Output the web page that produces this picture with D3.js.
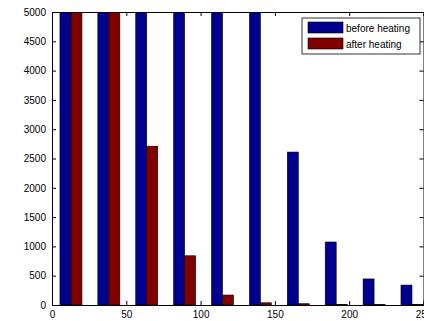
<!DOCTYPE html>
<html>
<head>
<meta charset="utf-8">
<script src="https://cdn.jsdelivr.net/npm/d3@7/dist/d3.min.js"></script>
<style>
  body { margin: 0; background: #fff; }
  svg text { font-family: "Liberation Sans", Arial, sans-serif; font-size: 10px; fill: #000; }
</style>
</head>
<body>
<div id="chart"></div>
<script>
// bin centres of the histogram (10 bins over 0..255)
const binCenters = [12.75, 38.25, 63.75, 89.25, 114.75, 140.25, 165.75, 191.25, 216.75, 242.25];
const beforeHeating = [5000, 5000, 5000, 5000, 5000, 5000, 2610, 1075, 445, 340];
const afterHeating = [5000, 5000, 2710, 840, 170, 38, 22, 10, 8, 6];
const xTicks = [0, 50, 100, 150, 200, 250];
const yTicks = [0, 500, 1000, 1500, 2000, 2500, 3000, 3500, 4000, 4500, 5000];
const seriesNames = ["before heating", "after heating"];
const colors = ["#00008f", "#800000"];

const W = 424, H = 321;
const plotLeft = 52, plotTop = 12, plotBottom = 305;

const svg = d3.select("#chart").append("svg")
    .attr("width", W)
    .attr("height", H);

const x = d3.scaleLinear().domain([0, 250]).range([plotLeft, plotLeft + 250 * 1.486]);
const y = d3.scaleLinear().domain([0, 5000]).range([plotBottom, plotTop]);

const barW = 11;

svg.append("defs").append("clipPath").attr("id", "plot")
    .append("rect")
    .attr("x", plotLeft).attr("y", plotTop)
    .attr("width", x(250) - plotLeft).attr("height", plotBottom - plotTop);

const bars = svg.append("g").attr("clip-path", "url(#plot)");

[beforeHeating, afterHeating].forEach(function(vals, s) {
    bars.selectAll(".bar" + s)
        .data(vals)
        .enter()
        .append("rect")
        .attr("x", function(d, i) { return x(binCenters[i]) - barW + s * barW; })
        .attr("y", function(d) { return y(d); })
        .attr("width", barW)
        .attr("height", function(d) { return y(0) - y(d); })
        .attr("fill", colors[s])
        .attr("stroke", "#000")
        .attr("stroke-width", 0.6);
});

// axes, MATLAB style: ticks point inward, box around
const xAxis = d3.axisBottom(x).tickValues(xTicks).tickSize(-4).tickPadding(6).tickFormat(d3.format("d"));
const yAxis = d3.axisLeft(y).tickValues(yTicks).tickSize(-4).tickPadding(6).tickFormat(d3.format("d"));
const xTop = d3.axisTop(x).tickValues(xTicks).tickSize(-4).tickFormat("");
const yRight = d3.axisRight(y).tickValues(yTicks).tickSize(-4).tickFormat("");

svg.append("g").attr("transform", "translate(0," + plotBottom + ")").call(xAxis);
svg.append("g").attr("transform", "translate(" + plotLeft + ",0)").call(yAxis);
svg.append("g").attr("transform", "translate(0," + plotTop + ")").call(xTop);
svg.append("g").attr("transform", "translate(" + x(250) + ",0)").call(yRight);

svg.selectAll(".domain").attr("stroke", "#000").attr("stroke-width", 1);
svg.selectAll(".tick line").attr("stroke", "#000");
svg.selectAll(".tick text").attr("font-size", 10).attr("font-family", "Liberation Sans, Arial, sans-serif");

// legend
const lg = svg.append("g").attr("transform", "translate(302,18)");
lg.append("rect")
    .attr("width", 118).attr("height", 36)
    .attr("fill", "#fff").attr("stroke", "#000").attr("stroke-width", 0.8);
seriesNames.forEach(function(name, i) {
    lg.append("rect")
        .attr("x", 6).attr("y", 4 + i * 16)
        .attr("width", 35).attr("height", 11)
        .attr("fill", colors[i]).attr("stroke", "#000").attr("stroke-width", 0.6);
    lg.append("text")
        .attr("x", 44).attr("y", 13.5 + i * 16)
        .text(name);
});
</script>
</body>
</html>
